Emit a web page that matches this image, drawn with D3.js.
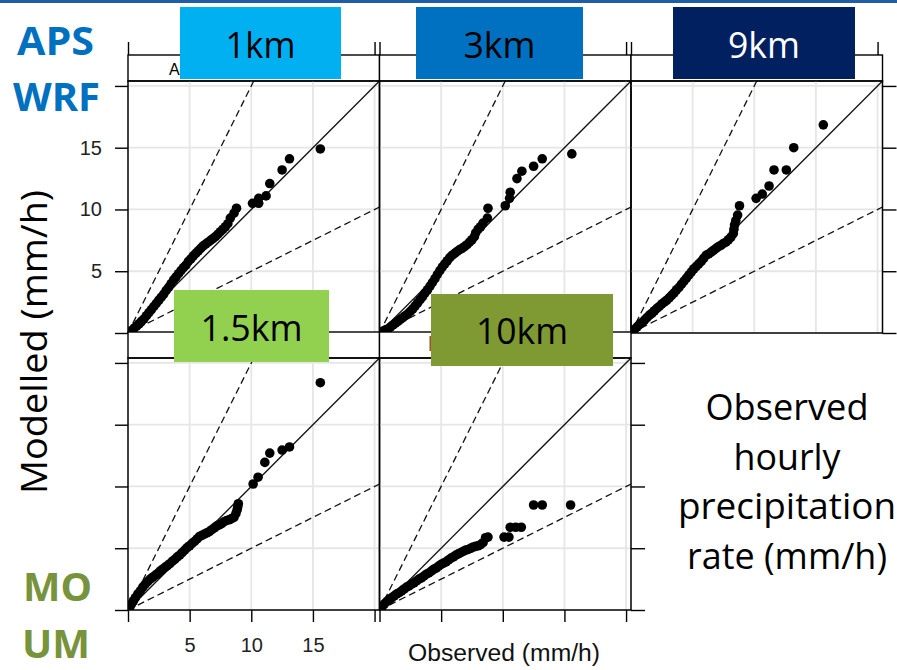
<!DOCTYPE html>
<html><head><meta charset="utf-8">
<script src="https://cdn.jsdelivr.net/npm/d3@7"></script>
<style>body{margin:0;background:#fff;overflow:hidden}</style>
</head><body>
<svg id="c" width="897" height="670"></svg>
<script>
// ---------- data (quantile pairs) ----------
const obs1km = [0.1,0.3,0.5,0.7,0.9,1.1,1.3,1.5,1.7,1.9,2.1,2.3,2.5,2.7,2.9,3.1,3.3,3.5,3.7,3.9,4.1,4.3,4.5,4.7,4.9,5.1,5.3,5.5,5.7,5.9,6.1,6.3,6.5,6.7,6.9,7.1,7.3,7.5,7.7,7.9,8.1,8.3,8.6,8.8,10.1,10.6,10.6,11.2,11.5,12.5,13.1,15.6];
const mod1km = [0.05,0.2,0.4,0.55,0.75,0.95,1.15,1.4,1.65,1.9,2.15,2.4,2.65,2.9,3.15,3.45,3.7,4.0,4.3,4.55,4.8,5.05,5.3,5.5,5.8,6.0,6.25,6.45,6.65,6.85,7.05,7.2,7.35,7.5,7.65,7.8,8.0,8.2,8.4,8.6,8.85,9.3,9.7,10.1,10.5,10.5,10.9,11.1,12.1,13.2,14.1,14.9];

const obs3km = [0.1,0.3,0.5,0.7,0.9,1.1,1.3,1.5,1.7,1.9,2.1,2.3,2.5,2.7,2.9,3.1,3.3,3.5,3.7,3.9,4.1,4.3,4.5,4.7,4.9,5.1,5.3,5.5,5.7,5.9,6.1,6.3,6.5,6.7,6.9,7.1,7.3,7.5,7.7,7.8,8.0,8.2,8.4,8.75,8.8,10.2,10.55,10.6,11.15,11.55,12.5,13.2,15.6];
const mod3km = [0.05,0.15,0.25,0.35,0.5,0.65,0.8,0.95,1.1,1.25,1.4,1.55,1.75,1.95,2.2,2.45,2.7,2.95,3.25,3.5,3.8,4.1,4.4,4.75,5.05,5.35,5.6,5.85,6.1,6.3,6.45,6.6,6.75,6.85,7.0,7.15,7.35,7.55,7.8,8.1,8.4,8.6,8.9,9.3,10.1,10.3,10.9,11.4,12.5,13.1,13.5,14.1,14.5];

const obs9km = [0.1,0.3,0.5,0.7,0.9,1.1,1.3,1.5,1.7,1.9,2.1,2.3,2.5,2.7,2.9,3.1,3.3,3.5,3.7,3.9,4.1,4.3,4.5,4.7,4.9,5.1,5.3,5.5,5.7,5.9,6.1,6.3,6.5,6.7,6.9,7.1,7.3,7.5,7.7,7.9,8.1,8.3,8.35,8.4,8.5,8.65,8.8,10.15,10.65,11.2,11.6,12.6,13.2,15.6];
const mod9km = [0.1,0.3,0.5,0.7,0.85,1.05,1.25,1.45,1.6,1.8,2.0,2.15,2.35,2.5,2.65,2.85,3.05,3.25,3.5,3.7,3.95,4.2,4.45,4.7,4.95,5.2,5.4,5.6,5.8,6.05,6.3,6.4,6.55,6.7,6.85,7.0,7.1,7.25,7.35,7.55,7.75,8.05,8.4,8.75,9.1,9.55,10.3,10.9,11.25,11.9,13.2,13.2,15.0,16.85];

const obs1p5km = [0.05,0.15,0.3,0.45,0.6,0.8,1.0,1.2,1.4,1.6,1.8,2.0,2.2,2.4,2.6,2.8,3.0,3.2,3.4,3.6,3.8,4.0,4.2,4.4,4.6,4.8,5.0,5.2,5.4,5.6,5.8,6.0,6.2,6.4,6.6,6.8,7.0,7.2,7.4,7.6,7.8,8.0,8.2,8.4,8.6,8.75,8.85,8.9,8.95,10.15,10.55,11.1,11.5,12.5,13.1,15.6];
const mod1p5km = [0.05,0.25,0.5,0.75,1.0,1.3,1.55,1.85,2.1,2.3,2.5,2.65,2.8,2.95,3.15,3.3,3.45,3.6,3.75,3.95,4.1,4.3,4.45,4.65,4.85,5.05,5.2,5.4,5.55,5.75,5.95,6.05,6.15,6.25,6.35,6.5,6.65,6.8,6.9,7.0,7.15,7.25,7.3,7.4,7.5,7.8,8.1,8.35,8.6,10.2,10.75,11.95,12.7,12.95,13.2,18.4];

const obs10km = [0.05,0.2,0.4,0.6,0.8,1.0,1.2,1.4,1.6,1.8,2.0,2.2,2.4,2.6,2.8,3.0,3.2,3.4,3.6,3.8,4.0,4.2,4.4,4.6,4.8,5.0,5.2,5.4,5.6,5.8,6.0,6.2,6.4,6.6,6.8,7.0,7.2,7.4,7.6,7.8,8.0,8.2,8.4,8.6,8.8,10.1,10.5,10.6,11.05,11.5,12.5,13.2,15.5];
const mod10km = [0.05,0.25,0.5,0.7,0.85,1.0,1.15,1.3,1.4,1.55,1.7,1.85,1.95,2.1,2.2,2.35,2.5,2.6,2.75,2.9,3.0,3.15,3.3,3.4,3.55,3.7,3.8,3.9,4.05,4.2,4.3,4.45,4.55,4.65,4.75,4.85,4.9,5.0,5.1,5.15,5.2,5.3,5.45,5.85,5.9,5.9,5.9,6.7,6.7,6.7,8.5,8.5,8.5];

const resolutions = ["1km","3km","9km","1.5km","10km"];
const stripTexts = ["A","","","",""];
const tickValues = [0,5,10,15,20];
const tickLabels = ["","5","10","15",""];
const refSlopes = [1,2,0.5];
const xTitle = "Observed (mm/h)";
const yTitle = "Modelled (mm/h)";
const sideNote = ["Observed","hourly","precipitation","rate (mm/h)"];

// ---------- layout ----------
const svg = d3.select("#c");
const W = 251.5, H = 252, SH = 26, DMAX = 20.4;
const lefts = [128, 379.5, 631], tops = [81, 358];
const panels = [
  {obs:obs1km, mod:mod1km, col:0,row:0},
  {obs:obs3km, mod:mod3km, col:1,row:0},
  {obs:obs9km, mod:mod9km, col:2,row:0},
  {obs:obs1p5km, mod:mod1p5km, col:0,row:1},
  {obs:obs10km, mod:mod10km, col:1,row:1}
];

svg.append("rect").attr("x",0).attr("y",0).attr("width",897).attr("height",3).attr("fill","#1f5ea6");

const x = d3.scaleLinear().domain([0,DMAX]).range([0,W]);
const y = d3.scaleLinear().domain([0,DMAX]).range([H,0]);
const line = d3.line().x(d=>x(d[0])).y(d=>y(d[1]));

panels.forEach((p,i)=>{
  const g = svg.append("g").attr("transform",`translate(${lefts[p.col]},${tops[p.row]})`);
  // strip
  g.append("rect").attr("x",0).attr("y",-SH).attr("width",W).attr("height",SH)
    .attr("fill","#fff").attr("stroke","#000").attr("stroke-width",1.4);
  if (stripTexts[i]) g.append("text").attr("x",41).attr("y",-6).attr("font-family","Liberation Sans, Arial")
    .attr("font-size",16).attr("fill","#000").text(stripTexts[i]);
  if (i===4) g.append("rect").attr("x",50).attr("y",-22).attr("width",2.5).attr("height",15).attr("fill","#a0522d");
  // grid
  const grid = g.append("g").attr("stroke","#e6e6e6").attr("stroke-width",1.8);
  tickValues.filter(v=>v>0).forEach(v=>{
    grid.append("line").attr("x1",x(v)).attr("x2",x(v)).attr("y1",0).attr("y2",H);
    grid.append("line").attr("y1",y(v)).attr("y2",y(v)).attr("x1",0).attr("x2",W);
  });
  const cid = "clip"+i;
  g.append("clipPath").attr("id",cid).append("rect").attr("width",W).attr("height",H);
  const pg = g.append("g").attr("clip-path",`url(#${cid})`);
  refSlopes.forEach(s=>{
    const pts = s>=1 ? [[0,0],[DMAX/s,DMAX]] : [[0,0],[DMAX,DMAX*s]];
    pg.append("path").attr("d",line(pts)).attr("fill","none").attr("stroke","#111")
      .attr("stroke-width",1.3).attr("stroke-dasharray", s===1?null:"7,4");
  });
  pg.selectAll("circle").data(p.obs.map((o,k)=>[o,p.mod[k]])).join("circle")
    .attr("cx",d=>x(d[0])).attr("cy",d=>y(d[1])).attr("r",4.8).attr("fill","#000");
  g.append("rect").attr("width",W).attr("height",H).attr("fill","none").attr("stroke","#000").attr("stroke-width",1.5);

  const styleAxis = a => { a.select(".domain").remove(); a.selectAll("line").attr("stroke","#000").attr("stroke-width",1.4);
    a.selectAll("text").attr("font-family","Liberation Sans, Arial").attr("font-size",20).attr("fill","#222"); };
  if (p.row===0) {
    g.append("g").attr("transform",`translate(0,${-SH})`)
      .call(d3.axisTop(x).tickValues(tickValues).tickSize(13).tickFormat("")).call(styleAxis);
  }
  if (p.col===0) {
    g.append("g").call(d3.axisLeft(y).tickValues(tickValues).tickSize(13).tickPadding(13)
      .tickFormat((d,k)=> p.row===0 ? tickLabels[k] : "")).call(styleAxis);
  }
  if (p.row===1) {
    g.append("g").attr("transform",`translate(0,${H})`)
      .call(d3.axisBottom(x).tickValues(tickValues).tickSize(12).tickPadding(16)
      .tickFormat((d,k)=> p.col===0 ? tickLabels[k] : "")).call(styleAxis);
  }
  if ((p.row===0 && p.col===2) || (p.row===1 && p.col===1)) {
    g.append("g").attr("transform",`translate(${W},0)`)
      .call(d3.axisRight(y).tickValues(tickValues).tickSize(14).tickFormat("")).call(styleAxis);
  }
});

// axis titles
svg.append("text").attr("x",504).attr("y",661).attr("text-anchor","middle")
  .attr("font-family","Liberation Sans, Arial").attr("font-size",23).attr("fill","#111")
  .attr("textLength",192).attr("lengthAdjust","spacingAndGlyphs").text(xTitle);
svg.append("text").attr("transform","translate(47,342) rotate(-90)").attr("text-anchor","middle")
  .attr("font-family","Open Sans").attr("font-size",36).attr("fill","#000")
  .attr("textLength",304).attr("lengthAdjust","spacingAndGlyphs").text(yTitle);

// right side note
const noteW = [163,107,218,200];
sideNote.forEach((t,k)=>{
  svg.append("text").attr("x",787).attr("y",420+k*49.5).attr("text-anchor","middle")
    .attr("font-family","Open Sans").attr("font-size",36).attr("fill","#000")
    .attr("textLength",noteW[k]).attr("lengthAdjust","spacingAndGlyphs").text(t);
});

// model group labels
const groups = [
  {t:"APS", x:17, y:55, w:77, c:"#0070c0"},
  {t:"WRF", x:13, y:111, w:87, c:"#0070c0"},
  {t:"MO", x:23, y:601, w:69, c:"#77933c"},
  {t:"UM", x:22, y:658, w:68, c:"#77933c"}
];
groups.forEach(d=>{
  svg.append("text").attr("x",d.x).attr("y",d.y).attr("font-family","Open Sans").attr("font-weight","bold")
    .attr("font-size",39).attr("fill",d.c).attr("textLength",d.w).attr("lengthAdjust","spacingAndGlyphs").text(d.t);
});

// resolution boxes
const boxes = [
  {x:180,y:7,w:161,h:72,c:"#00b0f0",tc:"#000",tw:70,by:58},
  {x:416,y:7,w:167,h:72,c:"#0070c0",tc:"#000",tw:72,by:58},
  {x:673,y:7,w:182,h:72,c:"#002060",tc:"#fff",tw:72,by:58},
  {x:174,y:290,w:155,h:72,c:"#92d050",tc:"#000",tw:102,by:341},
  {x:431,y:294,w:182,h:72,c:"#7f9a33",tc:"#000",tw:92,by:344}
];
boxes.forEach((b,i)=>{
  svg.append("rect").attr("x",b.x).attr("y",b.y).attr("width",b.w).attr("height",b.h).attr("fill",b.c);
  svg.append("text").attr("x",b.x+b.w/2).attr("y",b.by).attr("text-anchor","middle")
    .attr("font-family","Open Sans").attr("font-size",37).attr("fill",b.tc)
    .attr("textLength",b.tw).attr("lengthAdjust","spacingAndGlyphs").text(resolutions[i]);
});
</script>
</body></html>
